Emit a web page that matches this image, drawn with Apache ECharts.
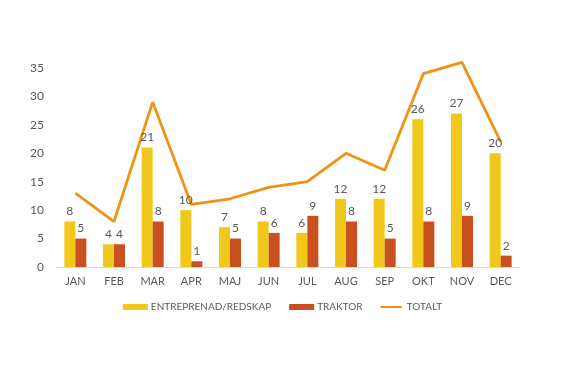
<!DOCTYPE html>
<html><head><meta charset="utf-8">
<script src="https://cdn.jsdelivr.net/npm/echarts@6/dist/echarts.min.js"></script>
<style>html,body{margin:0;padding:0;background:#fff}#c{width:565px;height:379px}</style>
</head><body><div id="c"></div>
<script>
const months = ['JAN','FEB','MAR','APR','MAJ','JUN','JUL','AUG','SEP','OKT','NOV','DEC'];
const entreprenad = [8,4,21,10,7,8,6,12,12,26,27,20];
const traktor = [5,4,8,1,5,6,9,8,5,8,9,2];
const totalt = [13,8,29,11,12,14,15,20,17,34,36,22];
const yTicks = {min:0, max:35, interval:5};

const chart = echarts.init(document.getElementById('c'), null, {renderer:'canvas'});
const font = 'Lato, "Open Sans", "Liberation Sans", sans-serif';
const lbl = {show:true, position:'top', color:'#595959', fontSize:12, fontFamily:font, distance:4};
chart.setOption({
  animation:false,
  textStyle:{fontFamily:font},
  grid:{left:56, right:45, top:68, bottom:112},
  legend:{
    bottom:62, left:'center', itemGap:18, itemWidth:25, itemHeight:6,
    textStyle:{color:'#595959', fontSize:10, fontFamily:font, padding:[0,0,0,-2]},
    data:[{name:'ENTREPRENAD/REDSKAP', icon:'rect'},{name:'TRAKTOR', icon:'rect'},
          {name:'TOTALT', icon:'path://M0,2.2h25v2.6h-25z M0,0h0.01v0.01h-0.01z M0,7h0.01v0.01h-0.01z'}]
  },
  xAxis:{
    type:'category', data:months,
    axisLine:{lineStyle:{color:'#d9d9d9'}}, axisTick:{show:false},
    axisLabel:{color:'#595959', fontSize:11, margin:9, fontFamily:font}
  },
  yAxis:{
    type:'value', min:yTicks.min, max:yTicks.max, interval:yTicks.interval,
    splitLine:{show:false}, axisLine:{show:false}, axisTick:{show:false},
    axisLabel:{color:'#595959', fontSize:12, margin:12, fontFamily:font}
  },
  series:[
    {name:'ENTREPRENAD/REDSKAP', type:'bar', data:entreprenad, barWidth:11, barGap:'0%',
     itemStyle:{color:'#F0C81C'}, label:lbl},
    {name:'TRAKTOR', type:'bar', data:traktor, barWidth:11, barGap:'0%',
     itemStyle:{color:'#C9501F'}, label:lbl},
    {name:'TOTALT', type:'line', data:totalt, symbol:'none', z:1, clip:false,
     lineStyle:{color:'#EF9314', width:2.8}, itemStyle:{color:'#EF9314'}}
  ]
});
</script></body></html>
